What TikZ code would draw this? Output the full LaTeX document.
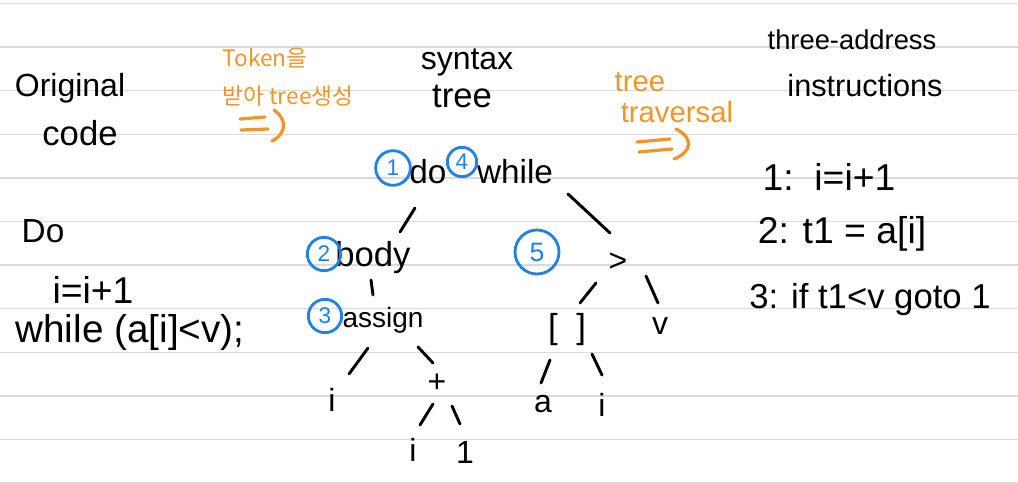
\documentclass[tikz,border=0pt]{standalone}
\usepackage{fontspec}
\setmainfont{Liberation Sans}
\newfontfamily\krfont{Noto Sans CJK KR}
\usetikzlibrary{calc}
\definecolor{inkorange}{RGB}{240,150,40}
\definecolor{inkblue}{RGB}{30,130,230}
\definecolor{rulegray}{RGB}{218,218,218}
\newcommand{\fs}[1]{\fontsize{#1}{#1}\selectfont}
\begin{document}
\begin{tikzpicture}[x=0.75pt,y=-0.75pt,
  txt/.style={inner sep=0pt, text=black},
  otxt/.style={inner sep=0pt, text=inkorange},
  edge/.style={line width=2.2pt, line cap=round, black},
  oarrow/.style={line width=2.4pt, line cap=round, inkorange},
  numc/.style={circle, draw=inkblue, line width=2.1pt, text=inkblue, inner sep=0pt, font=\fs{17}},
  rule/.style={rulegray, line width=1.1pt}
]
\fill[white] (0,0) rectangle (1018,483);
\useasboundingbox (0,0) rectangle (1018,483);
\foreach \k in {0,...,11} \draw[rule] (0,{3.5+43.6*\k}) -- (1018,{3.5+43.6*\k});

% original code
\node[txt, font=\fs{24}] (orig) at (70,88) {Original};
\node[txt, font=\fs{26}] (code) at (80,133) {code};
\node[txt, font=\fs{25}] (do) at (43,231) {Do};
\node[txt, font=\fs{28}] (inc) at (93,290) {i=i+1};
\node[txt, font=\fs{29}] (whl) at (130,332) {while (a[i]<v);};

% token -> tree
\node[otxt, font=\krfont\fs{17}] (tok1) at (265,58) {Token을};
\node[otxt, font=\krfont\fs{17}] (tok2) at (288,96) {받아 tree생성};
\draw[oarrow] (240,119) -- (265,117);
\draw[oarrow] (241,130) -- (268,129);
\draw[oarrow] (274,110) .. controls (288,120) and (286,134) .. (272,141);

% syntax tree title
\node[txt, font=\fs{24}] (syn) at (467,62) {syntax};
\node[txt, font=\fs{26}] (syt) at (462,96) {tree};

% tree traversal
\node[otxt, font=\fs{22}] (tt1) at (640,82) {tree};
\node[otxt, font=\fs{22}] (tt2) at (677,112) {traversal};
\draw[oarrow] (637,142) -- (670,139);
\draw[oarrow] (639,152) -- (672,149);
\draw[oarrow] (676,129) .. controls (694,138) and (692,152) .. (674,159);

% three-address
\node[txt, font=\fs{20.5}] (ta1) at (852,40) {three-address};
\node[txt, font=\fs{23}] (ta2) at (865,86) {instructions};
\node[txt, font=\fs{28}] (ins1) at (829,177) {1:\ \ i=i+1};
\node[txt, font=\fs{28}] (ins2) at (842,234) {2: t1 = a[i]};
\node[txt, font=\fs{26}] (ins3) at (870,300) {3: if t1<v goto 1};

% tree nodes
\node[txt, font=\fs{25}] (dwdo) at (428,172) {do};
\node[txt, font=\fs{25}] (dw) at (515,172) {while};
\node[txt, font=\fs{26}] (body) at (373,258) {body};
\node[txt, font=\fs{21}] (assign) at (383,320) {assign};
\node[txt, font=\fs{24}] (iA) at (332,400) {i};
\node[txt, font=\fs{24}] (plus) at (437,383) {+};
\node[txt, font=\fs{24}] (iB) at (413,450) {i};
\node[txt, font=\fs{24}] (one) at (465,452) {1};
\node[txt, font=\fs{24}] (gt) at (618,262) {>};
\node[txt, font=\fs{26}] (br) at (567,330) {[\hspace{14pt}]};
\node[txt, font=\fs{24}] (v) at (660,326) {v};
\node[txt, font=\fs{24}] (a) at (543,404) {a};
\node[txt, font=\fs{24}] (iC) at (602,405) {i};

% circled numbers
\node[numc, minimum size=26pt] (c1) at (393,168) {1};
\node[numc, minimum size=22pt] (c4) at (462,162) {4};
\node[numc, minimum size=25pt] (c2) at (324,254) {2};
\node[numc, minimum size=25pt] (c3) at (325,316) {3};
\node[numc, minimum size=33pt, font=\fs{20}] (c5) at (537,252) {5};

% connectors
\draw[edge] ($(dwdo)+(-13,36)$) -- ($(body)+(27,-26)$);
\draw[edge] ($(dw)+(53,22)$) -- ($(gt)+(-8,-29)$);
\draw[edge] ($(body)+(-2,22)$) -- ($(assign)+(-10,-25)$);
\draw[edge] ($(assign)+(-15,28)$) -- ($(iA)+(17,-26)$);
\draw[edge] ($(assign)+(35,27)$) -- ($(plus)+(-4,-20)$);
\draw[edge] ($(plus)+(-4,21)$) -- ($(iB)+(7,-25)$);
\draw[edge] ($(plus)+(15,23)$) -- ($(one)+(-5,-28)$);
\draw[edge] ($(gt)+(-22,21)$) -- ($(br)+(13,-27)$);
\draw[edge] ($(gt)+(28,14)$) -- ($(v)+(-2,-23)$);
\draw[edge] ($(br)+(-17,30)$) -- ($(a)+(-2,-21)$);
\draw[edge] ($(br)+(25,24)$) -- ($(iC)+(0,-30)$);
\end{tikzpicture}
\end{document}
